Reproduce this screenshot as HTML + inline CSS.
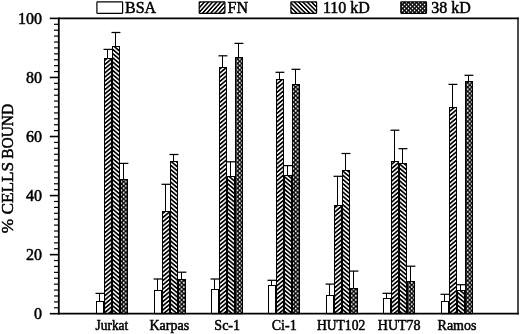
<!DOCTYPE html><html><head><meta charset="utf-8"><style>html,body{margin:0;padding:0;background:#fff;}body{width:520px;height:334px;overflow:hidden;}svg{display:block;will-change:transform;}text{font-family:"Liberation Serif",serif;fill:#000;stroke:#000;stroke-width:0.5px;}</style></head><body>
<svg width="520" height="334" viewBox="0 0 520 334">
<defs>
<pattern id="pFN" patternUnits="userSpaceOnUse" width="3.22" height="3.22" patternTransform="rotate(-40)"><rect x="0" y="0" width="3.22" height="1.7" fill="#000"/></pattern>
<pattern id="p110" patternUnits="userSpaceOnUse" width="3.22" height="3.22" patternTransform="rotate(40)"><rect x="0" y="0" width="3.22" height="1.7" fill="#000"/></pattern>
<pattern id="p38" patternUnits="userSpaceOnUse" width="4.3" height="4.3"><rect width="4.3" height="4.3" fill="#000"/><rect x="2.4499999999999997" y="2.3249999999999997" width="1.55" height="1.8" fill="#fff"/><rect x="0.29999999999999993" y="0.17499999999999993" width="1.55" height="1.8" fill="#fff"/></pattern>
<pattern id="l38" patternUnits="userSpaceOnUse" width="4" height="4"><rect width="4" height="4" fill="#000"/><rect x="1.8" y="1.7" width="1.4" height="1.6" fill="#fff"/><rect x="-0.2" y="-0.3" width="1.4" height="1.6" fill="#fff"/><rect x="3.8" y="-0.3" width="1.4" height="1.6" fill="#fff"/><rect x="-0.2" y="3.7" width="1.4" height="1.6" fill="#fff"/><rect x="3.8" y="3.7" width="1.4" height="1.6" fill="#fff"/></pattern>
<pattern id="lFN" patternUnits="userSpaceOnUse" width="3.05" height="3.05" patternTransform="rotate(-48)"><rect x="0" y="0" width="3.05" height="1.55" fill="#000"/></pattern>
<pattern id="l110" patternUnits="userSpaceOnUse" width="3.05" height="3.05" patternTransform="rotate(45)"><rect x="0" y="0" width="3.05" height="1.55" fill="#000"/></pattern>
</defs>
<rect width="520" height="334" fill="#fff"/>
<line x1="99.5" y1="301.5" x2="99.5" y2="293.4" stroke="#000" stroke-width="1.0"/>
<line x1="95.5" y1="293.4" x2="104.4" y2="293.4" stroke="#000" stroke-width="1.25"/>
<rect x="96.5" y="301.5" width="7" height="12.20" fill="#fff" stroke="#000" stroke-width="1.0"/>
<line x1="107.5" y1="58.5" x2="107.5" y2="49.4" stroke="#000" stroke-width="1.0"/>
<line x1="103.5" y1="49.4" x2="112.4" y2="49.4" stroke="#000" stroke-width="1.25"/>
<rect x="104.5" y="58.5" width="7" height="255.20" fill="url(#pFN)" stroke="#000" stroke-width="1.0"/>
<line x1="115.5" y1="46.5" x2="115.5" y2="32.5" stroke="#000" stroke-width="1.0"/>
<line x1="111.5" y1="32.5" x2="120.4" y2="32.5" stroke="#000" stroke-width="1.25"/>
<rect x="112.5" y="46.5" width="7" height="267.20" fill="url(#p110)" stroke="#000" stroke-width="1.0"/>
<line x1="123.5" y1="179.5" x2="123.5" y2="163.4" stroke="#000" stroke-width="1.0"/>
<line x1="119.5" y1="163.4" x2="128.4" y2="163.4" stroke="#000" stroke-width="1.25"/>
<rect x="120.5" y="179.5" width="7" height="134.20" fill="url(#p38)" stroke="#000" stroke-width="1.0"/>
<text x="111.90" y="329.6" font-size="14" text-anchor="middle" textLength="32.6" lengthAdjust="spacingAndGlyphs">Jurkat</text>
<line x1="157.5" y1="290.5" x2="157.5" y2="279.0" stroke="#000" stroke-width="1.0"/>
<line x1="153.5" y1="279.0" x2="162.4" y2="279.0" stroke="#000" stroke-width="1.25"/>
<rect x="154.5" y="290.5" width="7" height="23.20" fill="#fff" stroke="#000" stroke-width="1.0"/>
<line x1="165.5" y1="211.5" x2="165.5" y2="184.3" stroke="#000" stroke-width="1.0"/>
<line x1="161.5" y1="184.3" x2="170.4" y2="184.3" stroke="#000" stroke-width="1.25"/>
<rect x="162.5" y="211.5" width="7" height="102.20" fill="url(#pFN)" stroke="#000" stroke-width="1.0"/>
<line x1="173.5" y1="161.5" x2="173.5" y2="154.5" stroke="#000" stroke-width="1.0"/>
<line x1="169.5" y1="154.5" x2="178.4" y2="154.5" stroke="#000" stroke-width="1.25"/>
<rect x="170.5" y="161.5" width="7" height="152.20" fill="url(#p110)" stroke="#000" stroke-width="1.0"/>
<line x1="181.5" y1="279.5" x2="181.5" y2="272.2" stroke="#000" stroke-width="1.0"/>
<line x1="177.5" y1="272.2" x2="186.4" y2="272.2" stroke="#000" stroke-width="1.25"/>
<rect x="178.5" y="279.5" width="7" height="34.20" fill="url(#p38)" stroke="#000" stroke-width="1.0"/>
<text x="169.35" y="329.6" font-size="14" text-anchor="middle" textLength="39.9" lengthAdjust="spacingAndGlyphs">Karpas</text>
<line x1="214.5" y1="289.5" x2="214.5" y2="279.0" stroke="#000" stroke-width="1.0"/>
<line x1="210.5" y1="279.0" x2="219.4" y2="279.0" stroke="#000" stroke-width="1.25"/>
<rect x="211.5" y="289.5" width="7" height="24.20" fill="#fff" stroke="#000" stroke-width="1.0"/>
<line x1="222.5" y1="67.5" x2="222.5" y2="55.8" stroke="#000" stroke-width="1.0"/>
<line x1="218.5" y1="55.8" x2="227.4" y2="55.8" stroke="#000" stroke-width="1.25"/>
<rect x="219.5" y="67.5" width="7" height="246.20" fill="url(#pFN)" stroke="#000" stroke-width="1.0"/>
<line x1="230.5" y1="176.5" x2="230.5" y2="161.8" stroke="#000" stroke-width="1.0"/>
<line x1="226.5" y1="161.8" x2="235.4" y2="161.8" stroke="#000" stroke-width="1.25"/>
<rect x="227.5" y="176.5" width="7" height="137.20" fill="url(#p110)" stroke="#000" stroke-width="1.0"/>
<line x1="238.5" y1="57.5" x2="238.5" y2="43.4" stroke="#000" stroke-width="1.0"/>
<line x1="234.5" y1="43.4" x2="243.4" y2="43.4" stroke="#000" stroke-width="1.25"/>
<rect x="235.5" y="57.5" width="7" height="256.20" fill="url(#p38)" stroke="#000" stroke-width="1.0"/>
<text x="227.20" y="329.6" font-size="14" text-anchor="middle">Sc-1</text>
<line x1="271.5" y1="285.5" x2="271.5" y2="280.3" stroke="#000" stroke-width="1.0"/>
<line x1="267.5" y1="280.3" x2="276.4" y2="280.3" stroke="#000" stroke-width="1.25"/>
<rect x="268.5" y="285.5" width="7" height="28.20" fill="#fff" stroke="#000" stroke-width="1.0"/>
<line x1="279.5" y1="79.5" x2="279.5" y2="72.3" stroke="#000" stroke-width="1.0"/>
<line x1="275.5" y1="72.3" x2="284.4" y2="72.3" stroke="#000" stroke-width="1.25"/>
<rect x="276.5" y="79.5" width="7" height="234.20" fill="url(#pFN)" stroke="#000" stroke-width="1.0"/>
<line x1="287.5" y1="175.5" x2="287.5" y2="165.6" stroke="#000" stroke-width="1.0"/>
<line x1="283.5" y1="165.6" x2="292.4" y2="165.6" stroke="#000" stroke-width="1.25"/>
<rect x="284.5" y="175.5" width="7" height="138.20" fill="url(#p110)" stroke="#000" stroke-width="1.0"/>
<line x1="295.5" y1="84.5" x2="295.5" y2="69.3" stroke="#000" stroke-width="1.0"/>
<line x1="291.5" y1="69.3" x2="300.4" y2="69.3" stroke="#000" stroke-width="1.25"/>
<rect x="292.5" y="84.5" width="7" height="229.20" fill="url(#p38)" stroke="#000" stroke-width="1.0"/>
<text x="284.20" y="329.6" font-size="14" text-anchor="middle">Ci-1</text>
<line x1="329.5" y1="295.5" x2="329.5" y2="284.1" stroke="#000" stroke-width="1.0"/>
<line x1="325.5" y1="284.1" x2="334.4" y2="284.1" stroke="#000" stroke-width="1.25"/>
<rect x="326.5" y="295.5" width="7" height="18.20" fill="#fff" stroke="#000" stroke-width="1.0"/>
<line x1="337.5" y1="205.5" x2="337.5" y2="176.3" stroke="#000" stroke-width="1.0"/>
<line x1="333.5" y1="176.3" x2="342.4" y2="176.3" stroke="#000" stroke-width="1.25"/>
<rect x="334.5" y="205.5" width="7" height="108.20" fill="url(#pFN)" stroke="#000" stroke-width="1.0"/>
<line x1="345.5" y1="170.5" x2="345.5" y2="153.5" stroke="#000" stroke-width="1.0"/>
<line x1="341.5" y1="153.5" x2="350.4" y2="153.5" stroke="#000" stroke-width="1.25"/>
<rect x="342.5" y="170.5" width="7" height="143.20" fill="url(#p110)" stroke="#000" stroke-width="1.0"/>
<line x1="353.5" y1="288.5" x2="353.5" y2="271.1" stroke="#000" stroke-width="1.0"/>
<line x1="349.5" y1="271.1" x2="358.4" y2="271.1" stroke="#000" stroke-width="1.25"/>
<rect x="350.5" y="288.5" width="7" height="25.20" fill="url(#p38)" stroke="#000" stroke-width="1.0"/>
<text x="341.10" y="329.6" font-size="14" text-anchor="middle" textLength="48.3" lengthAdjust="spacingAndGlyphs">HUT102</text>
<line x1="386.5" y1="298.5" x2="386.5" y2="293.3" stroke="#000" stroke-width="1.0"/>
<line x1="382.5" y1="293.3" x2="391.4" y2="293.3" stroke="#000" stroke-width="1.25"/>
<rect x="383.5" y="298.5" width="7" height="15.20" fill="#fff" stroke="#000" stroke-width="1.0"/>
<line x1="394.5" y1="161.5" x2="394.5" y2="130.2" stroke="#000" stroke-width="1.0"/>
<line x1="390.5" y1="130.2" x2="399.4" y2="130.2" stroke="#000" stroke-width="1.25"/>
<rect x="391.5" y="161.5" width="7" height="152.20" fill="url(#pFN)" stroke="#000" stroke-width="1.0"/>
<line x1="402.5" y1="163.5" x2="402.5" y2="148.7" stroke="#000" stroke-width="1.0"/>
<line x1="398.5" y1="148.7" x2="407.4" y2="148.7" stroke="#000" stroke-width="1.25"/>
<rect x="399.5" y="163.5" width="7" height="150.20" fill="url(#p110)" stroke="#000" stroke-width="1.0"/>
<line x1="410.5" y1="281.5" x2="410.5" y2="266.2" stroke="#000" stroke-width="1.0"/>
<line x1="406.5" y1="266.2" x2="415.4" y2="266.2" stroke="#000" stroke-width="1.25"/>
<rect x="407.5" y="281.5" width="7" height="32.20" fill="url(#p38)" stroke="#000" stroke-width="1.0"/>
<text x="399.20" y="329.6" font-size="14" text-anchor="middle">HUT78</text>
<line x1="444.5" y1="301.5" x2="444.5" y2="294.3" stroke="#000" stroke-width="1.0"/>
<line x1="440.5" y1="294.3" x2="449.4" y2="294.3" stroke="#000" stroke-width="1.25"/>
<rect x="441.5" y="301.5" width="7" height="12.20" fill="#fff" stroke="#000" stroke-width="1.0"/>
<line x1="452.5" y1="107.5" x2="452.5" y2="84.4" stroke="#000" stroke-width="1.0"/>
<line x1="448.5" y1="84.4" x2="457.4" y2="84.4" stroke="#000" stroke-width="1.25"/>
<rect x="449.5" y="107.5" width="7" height="206.20" fill="url(#pFN)" stroke="#000" stroke-width="1.0"/>
<line x1="460.5" y1="290.5" x2="460.5" y2="284.7" stroke="#000" stroke-width="1.0"/>
<line x1="456.5" y1="284.7" x2="465.4" y2="284.7" stroke="#000" stroke-width="1.25"/>
<rect x="457.5" y="290.5" width="7" height="23.20" fill="url(#p110)" stroke="#000" stroke-width="1.0"/>
<line x1="468.5" y1="81.5" x2="468.5" y2="75.3" stroke="#000" stroke-width="1.0"/>
<line x1="464.5" y1="75.3" x2="473.4" y2="75.3" stroke="#000" stroke-width="1.25"/>
<rect x="465.5" y="81.5" width="7" height="232.20" fill="url(#p38)" stroke="#000" stroke-width="1.0"/>
<text x="457.00" y="329.6" font-size="14" text-anchor="middle">Ramos</text>
<line x1="58.80" y1="17.50" x2="58.80" y2="314.60" stroke="#000" stroke-width="1.8"/>
<line x1="518.00" y1="17.55" x2="518.00" y2="314.60" stroke="#000" stroke-width="1.4"/>
<line x1="58.80" y1="18.40" x2="518.70" y2="18.40" stroke="#000" stroke-width="1.7"/>
<line x1="58.80" y1="313.70" x2="518.70" y2="313.70" stroke="#000" stroke-width="1.8"/>
<line x1="49.8" y1="313.70" x2="58.80" y2="313.70" stroke="#000" stroke-width="1.6"/>
<text x="42" y="319.20" font-size="16" text-anchor="end">0</text>
<line x1="54" y1="307.79" x2="58.80" y2="307.79" stroke="#000" stroke-width="1.2"/>
<line x1="54" y1="301.89" x2="58.80" y2="301.89" stroke="#000" stroke-width="1.2"/>
<line x1="54" y1="295.98" x2="58.80" y2="295.98" stroke="#000" stroke-width="1.2"/>
<line x1="54" y1="290.08" x2="58.80" y2="290.08" stroke="#000" stroke-width="1.2"/>
<line x1="54" y1="284.17" x2="58.80" y2="284.17" stroke="#000" stroke-width="1.2"/>
<line x1="54" y1="278.26" x2="58.80" y2="278.26" stroke="#000" stroke-width="1.2"/>
<line x1="54" y1="272.36" x2="58.80" y2="272.36" stroke="#000" stroke-width="1.2"/>
<line x1="54" y1="266.45" x2="58.80" y2="266.45" stroke="#000" stroke-width="1.2"/>
<line x1="54" y1="260.55" x2="58.80" y2="260.55" stroke="#000" stroke-width="1.2"/>
<line x1="49.8" y1="254.64" x2="58.80" y2="254.64" stroke="#000" stroke-width="1.6"/>
<text x="42" y="260.14" font-size="16" text-anchor="end">20</text>
<line x1="54" y1="248.73" x2="58.80" y2="248.73" stroke="#000" stroke-width="1.2"/>
<line x1="54" y1="242.83" x2="58.80" y2="242.83" stroke="#000" stroke-width="1.2"/>
<line x1="54" y1="236.92" x2="58.80" y2="236.92" stroke="#000" stroke-width="1.2"/>
<line x1="54" y1="231.02" x2="58.80" y2="231.02" stroke="#000" stroke-width="1.2"/>
<line x1="54" y1="225.11" x2="58.80" y2="225.11" stroke="#000" stroke-width="1.2"/>
<line x1="54" y1="219.20" x2="58.80" y2="219.20" stroke="#000" stroke-width="1.2"/>
<line x1="54" y1="213.30" x2="58.80" y2="213.30" stroke="#000" stroke-width="1.2"/>
<line x1="54" y1="207.39" x2="58.80" y2="207.39" stroke="#000" stroke-width="1.2"/>
<line x1="54" y1="201.49" x2="58.80" y2="201.49" stroke="#000" stroke-width="1.2"/>
<line x1="49.8" y1="195.58" x2="58.80" y2="195.58" stroke="#000" stroke-width="1.6"/>
<text x="42" y="201.08" font-size="16" text-anchor="end">40</text>
<line x1="54" y1="189.67" x2="58.80" y2="189.67" stroke="#000" stroke-width="1.2"/>
<line x1="54" y1="183.77" x2="58.80" y2="183.77" stroke="#000" stroke-width="1.2"/>
<line x1="54" y1="177.86" x2="58.80" y2="177.86" stroke="#000" stroke-width="1.2"/>
<line x1="54" y1="171.96" x2="58.80" y2="171.96" stroke="#000" stroke-width="1.2"/>
<line x1="54" y1="166.05" x2="58.80" y2="166.05" stroke="#000" stroke-width="1.2"/>
<line x1="54" y1="160.14" x2="58.80" y2="160.14" stroke="#000" stroke-width="1.2"/>
<line x1="54" y1="154.24" x2="58.80" y2="154.24" stroke="#000" stroke-width="1.2"/>
<line x1="54" y1="148.33" x2="58.80" y2="148.33" stroke="#000" stroke-width="1.2"/>
<line x1="54" y1="142.43" x2="58.80" y2="142.43" stroke="#000" stroke-width="1.2"/>
<line x1="49.8" y1="136.52" x2="58.80" y2="136.52" stroke="#000" stroke-width="1.6"/>
<text x="42" y="142.02" font-size="16" text-anchor="end">60</text>
<line x1="54" y1="130.61" x2="58.80" y2="130.61" stroke="#000" stroke-width="1.2"/>
<line x1="54" y1="124.71" x2="58.80" y2="124.71" stroke="#000" stroke-width="1.2"/>
<line x1="54" y1="118.80" x2="58.80" y2="118.80" stroke="#000" stroke-width="1.2"/>
<line x1="54" y1="112.90" x2="58.80" y2="112.90" stroke="#000" stroke-width="1.2"/>
<line x1="54" y1="106.99" x2="58.80" y2="106.99" stroke="#000" stroke-width="1.2"/>
<line x1="54" y1="101.08" x2="58.80" y2="101.08" stroke="#000" stroke-width="1.2"/>
<line x1="54" y1="95.18" x2="58.80" y2="95.18" stroke="#000" stroke-width="1.2"/>
<line x1="54" y1="89.27" x2="58.80" y2="89.27" stroke="#000" stroke-width="1.2"/>
<line x1="54" y1="83.37" x2="58.80" y2="83.37" stroke="#000" stroke-width="1.2"/>
<line x1="49.8" y1="77.46" x2="58.80" y2="77.46" stroke="#000" stroke-width="1.6"/>
<text x="42" y="82.96" font-size="16" text-anchor="end">80</text>
<line x1="54" y1="71.55" x2="58.80" y2="71.55" stroke="#000" stroke-width="1.2"/>
<line x1="54" y1="65.65" x2="58.80" y2="65.65" stroke="#000" stroke-width="1.2"/>
<line x1="54" y1="59.74" x2="58.80" y2="59.74" stroke="#000" stroke-width="1.2"/>
<line x1="54" y1="53.84" x2="58.80" y2="53.84" stroke="#000" stroke-width="1.2"/>
<line x1="54" y1="47.93" x2="58.80" y2="47.93" stroke="#000" stroke-width="1.2"/>
<line x1="54" y1="42.02" x2="58.80" y2="42.02" stroke="#000" stroke-width="1.2"/>
<line x1="54" y1="36.12" x2="58.80" y2="36.12" stroke="#000" stroke-width="1.2"/>
<line x1="54" y1="30.21" x2="58.80" y2="30.21" stroke="#000" stroke-width="1.2"/>
<line x1="54" y1="24.31" x2="58.80" y2="24.31" stroke="#000" stroke-width="1.2"/>
<line x1="49.8" y1="18.40" x2="58.80" y2="18.40" stroke="#000" stroke-width="1.6"/>
<text x="42" y="23.90" font-size="16" text-anchor="end">100</text>
<g transform="translate(12.9,0) rotate(-90)"><text x="-233.2" y="0" font-size="16.5" textLength="71.4" lengthAdjust="spacingAndGlyphs">% CELLS</text><text x="-158.8" y="0" font-size="16.5" textLength="54.9" lengthAdjust="spacingAndGlyphs">BOUND</text></g>
<rect x="96.90" y="1.9" width="25.7" height="11.4" rx="0.5" fill="#fff" stroke="#000" stroke-width="1.2"/>
<text x="125.00" y="12.7" font-size="16">BSA</text>
<rect x="199.20" y="1.9" width="25.7" height="11.4" rx="0.5" fill="url(#lFN)" stroke="#000" stroke-width="1.2"/>
<text x="227.60" y="12.7" font-size="16">FN</text>
<rect x="290.90" y="1.9" width="25.7" height="11.4" rx="0.5" fill="url(#l110)" stroke="#000" stroke-width="1.2"/>
<text x="322.90" y="12.7" font-size="16">110 kD</text>
<rect x="400.80" y="1.9" width="25.7" height="11.4" rx="0.5" fill="url(#l38)" stroke="#000" stroke-width="1.2"/>
<text x="431.20" y="12.7" font-size="16">38 kD</text>
</svg></body></html>
